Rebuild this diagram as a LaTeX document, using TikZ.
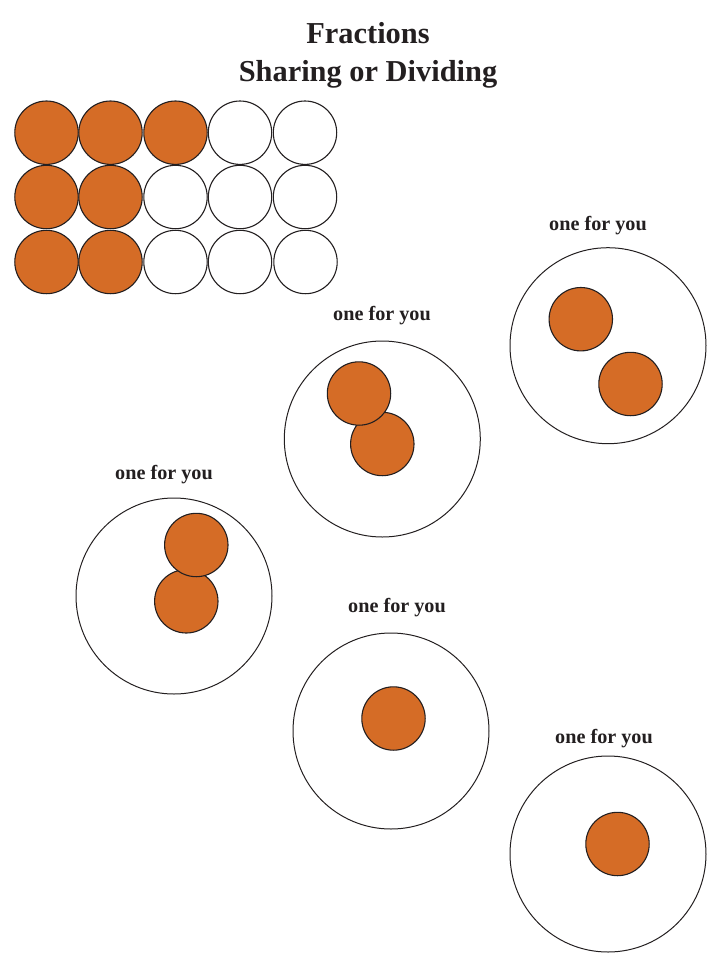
\documentclass[tikz,border=0pt]{standalone}
\usepackage{fontspec}
\setmainfont{Liberation Serif}
\definecolor{chip}{HTML}{D56C26}
\definecolor{ink}{HTML}{231F20}
\begin{document}
\begin{tikzpicture}[x=1pt,y=-1pt,
  chipfull/.style={circle,draw=ink,fill=chip,line width=1.1pt,minimum size=63.4pt,inner sep=0pt},
  chipempty/.style={circle,draw=ink,fill=white,line width=1.1pt,minimum size=63.4pt,inner sep=0pt},
  plate/.style={circle,draw=ink,line width=1pt,minimum size=196pt,inner sep=0pt},
  lbl/.style={anchor=base,font=\fontsize{20.2}{23}\selectfont\bfseries,text=ink,inner sep=0pt},
  ttl/.style={anchor=base,font=\fontsize{30.4}{34}\selectfont\bfseries,text=ink,inner sep=0pt}]
\useasboundingbox (0,0) rectangle (726,970);
% title
\node[ttl] (t1) at (368,43) {Fractions};
\node[ttl] (t2) at (368,81.5) {Sharing or Dividing};
% grid
\node[chipfull] (g11) at (46.5,132.7) {};
\node[chipfull] (g12) at (110.5,132.7) {};
\node[chipfull] (g13) at (175.5,132.7) {};
\node[chipempty] (g14) at (240,132.7) {};
\node[chipempty] (g15) at (305,132.7) {};
\node[chipfull] (g21) at (46.5,197) {};
\node[chipfull] (g22) at (110.5,197) {};
\node[chipempty] (g23) at (175.5,197) {};
\node[chipempty] (g24) at (240,197) {};
\node[chipempty] (g25) at (305,197) {};
\node[chipfull] (g31) at (46.5,262) {};
\node[chipfull] (g32) at (110.5,262) {};
\node[chipempty] (g33) at (175.5,262) {};
\node[chipempty] (g34) at (240,262) {};
\node[chipempty] (g35) at (305.5,262) {};
% plate 1 (top right)
\node[lbl] (l1) at (598,230) {one for you};
\node[plate] (p1) at (608,345.7) {};
\node[chipfull] (p1a) at (580.8,319.2) {};
\node[chipfull] (p1b) at (630.5,384) {};
% plate 2 (middle)
\node[lbl] (l2) at (382,320.7) {one for you};
\node[plate] (p2) at (382.3,439) {};
\node[chipfull] (p2b) at (382.3,444) {};
\node[chipfull] (p2a) at (359,393.5) {};
% plate 3 (left)
\node[lbl] (l3) at (164,479) {one for you};
\node[plate] (p3) at (174,596) {};
\node[chipfull] (p3b) at (186.3,601.3) {};
\node[chipfull] (p3a) at (196.3,545) {};
% plate 4 (middle lower)
\node[lbl] (l4) at (397,612) {one for you};
\node[plate] (p4) at (391,731) {};
\node[chipfull] (p4a) at (393.5,718.5) {};
% plate 5 (bottom right)
\node[lbl] (l5) at (604,743) {one for you};
\node[plate] (p5) at (608,854) {};
\node[chipfull] (p5a) at (617.5,844) {};
\end{tikzpicture}
\end{document}
